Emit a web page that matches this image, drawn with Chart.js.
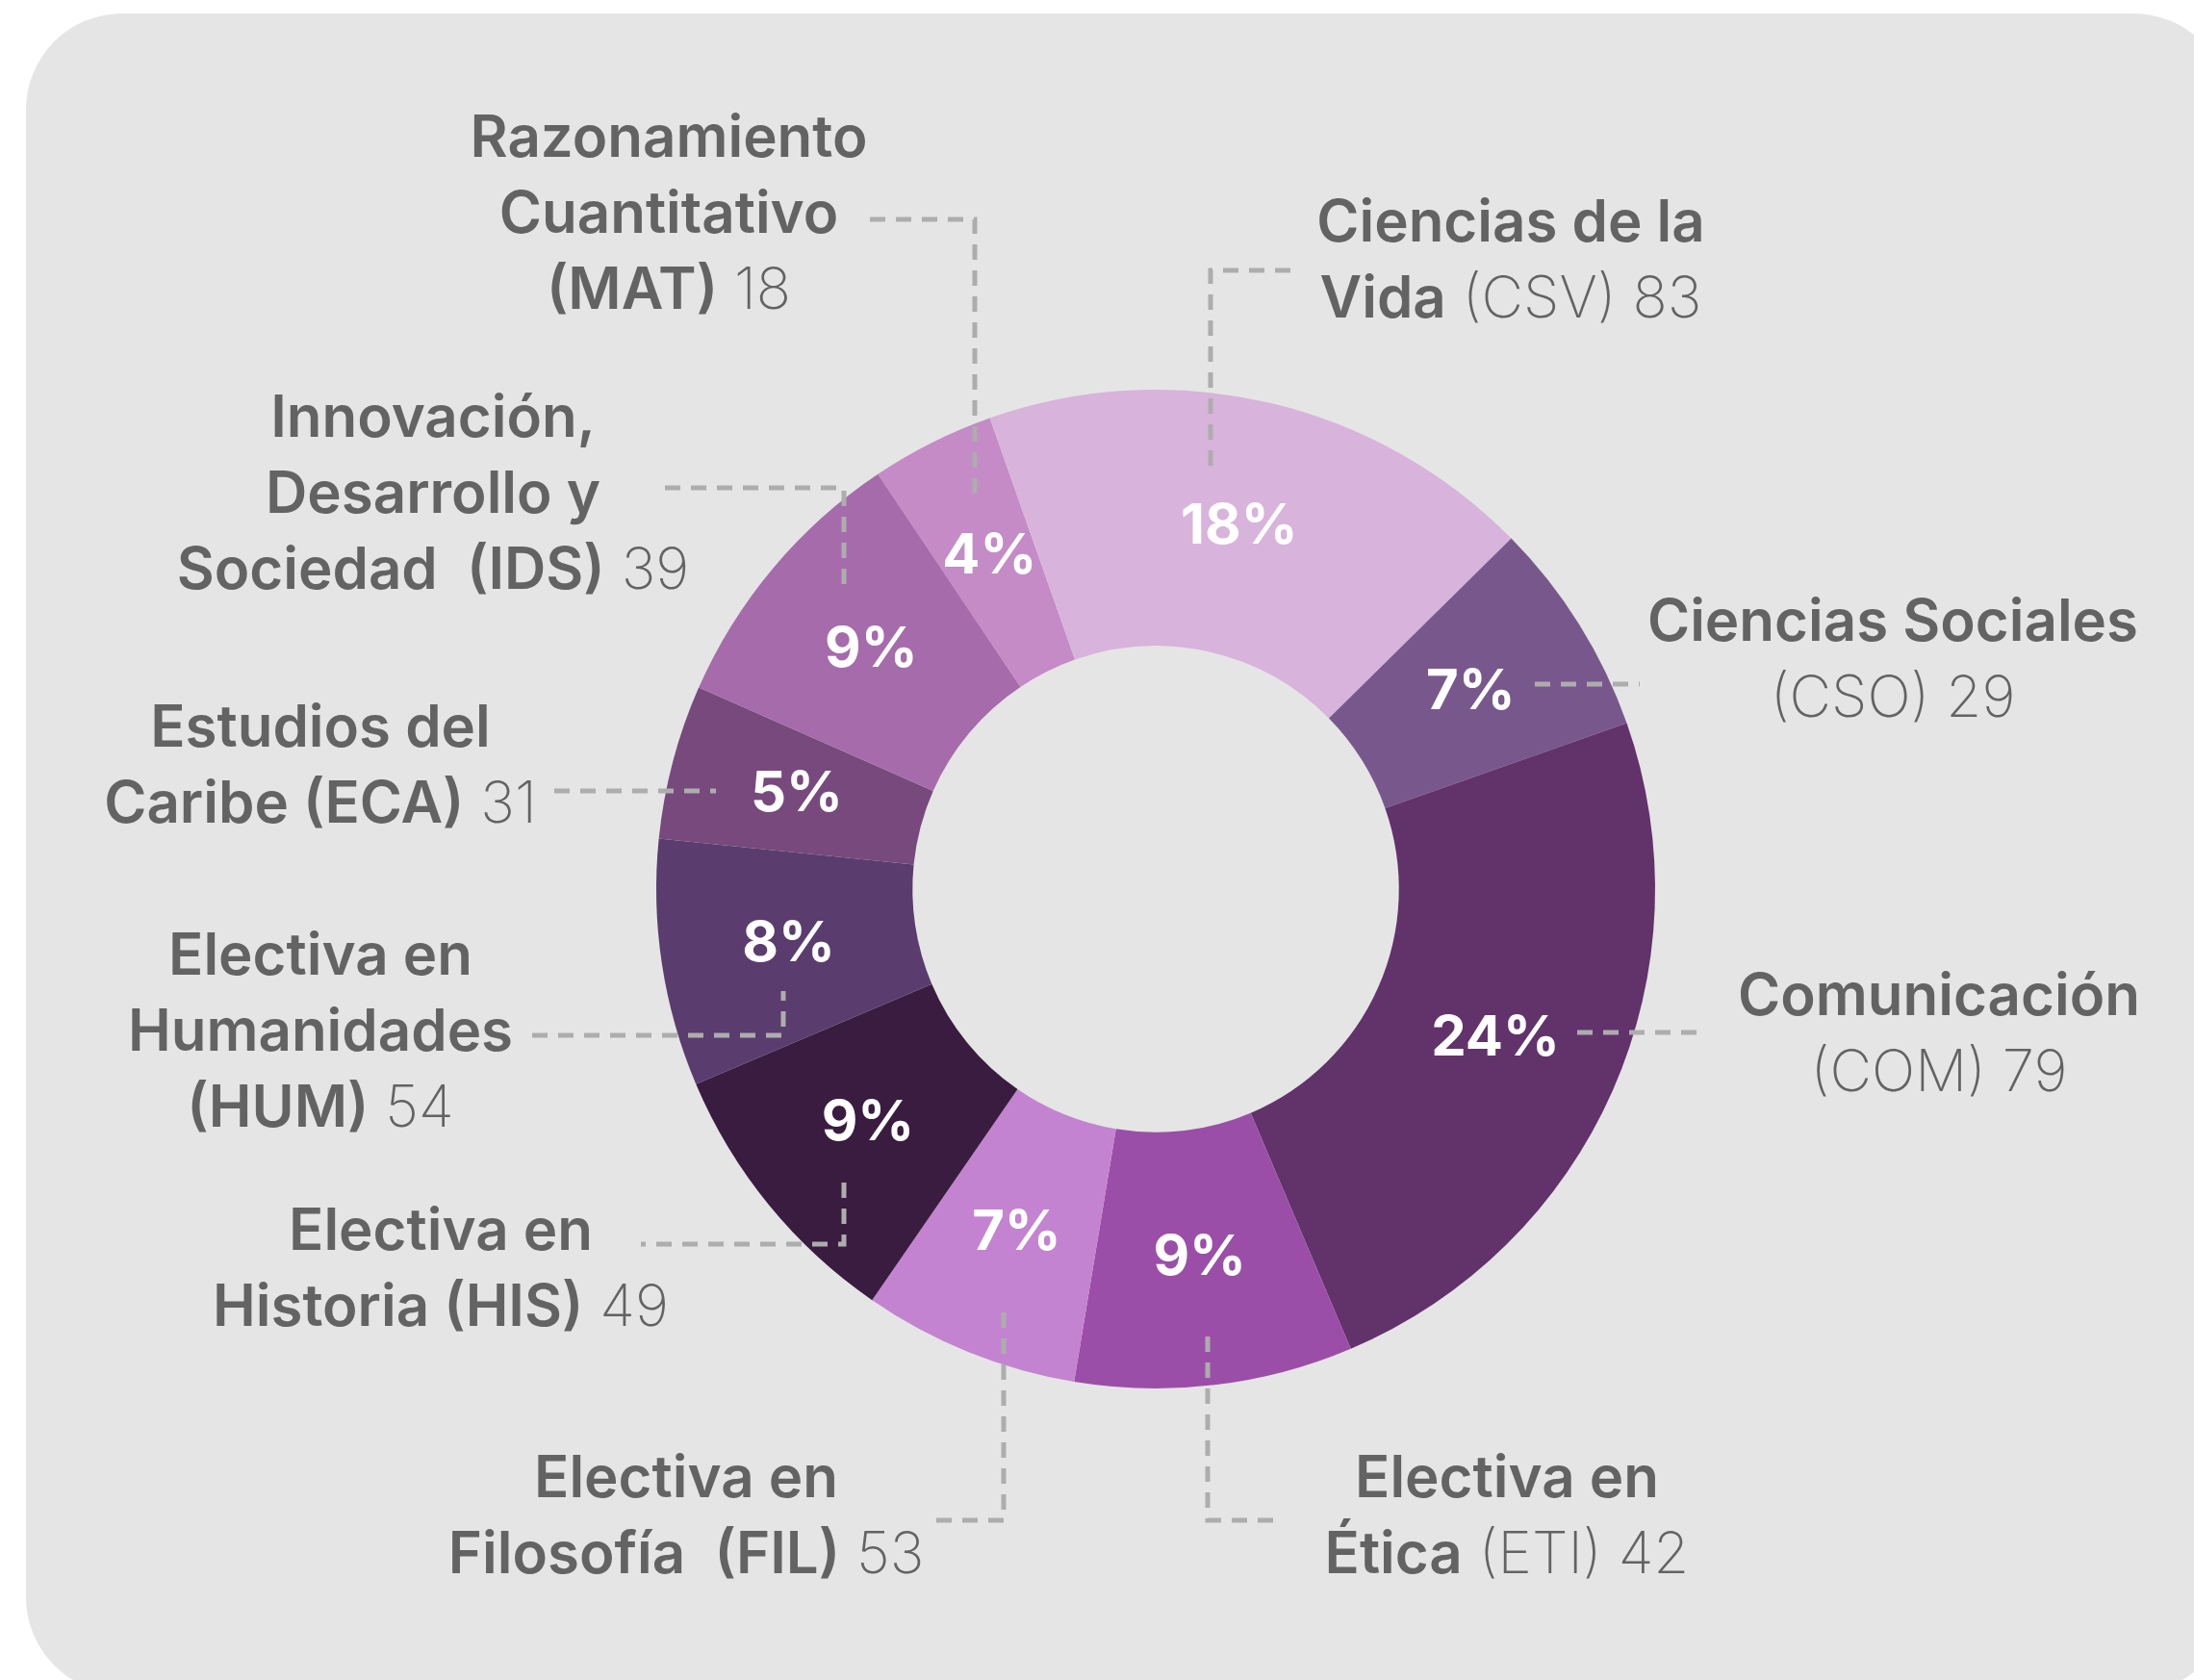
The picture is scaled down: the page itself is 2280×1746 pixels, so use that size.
<!DOCTYPE html>
<html>
<head>
<meta charset="utf-8">
<script src="https://cdn.jsdelivr.net/npm/chart.js@4"></script>
<style>
  html, body { margin: 0; padding: 0; background: #ffffff; overflow: hidden; }
  #card {
    position: absolute; left: 27px; top: 14px; width: 2290px; height: 1746px;
    border-radius: 100px; background: #e5e5e5;
  }
  #chart { position: absolute; left: 0; top: 0; }
</style>
</head>
<body>
<div id="card"></div>
<canvas id="chart" width="2280" height="1746"></canvas>
<script>
// data
const codes = ["MAT", "CSV", "CSO", "COM", "ETI", "FIL", "HIS", "HUM", "ECA", "IDS"];
const counts = [18, 83, 29, 79, 42, 53, 49, 54, 31, 39];
const percents = [4, 18, 7, 24, 9, 7, 9, 8, 5, 9];
const nameLines = [
  ["Razonamiento", "Cuantitativo"],
  ["Ciencias de la", "Vida"],
  ["Ciencias Sociales"],
  ["Comunicación"],
  ["Electiva en", "Ética"],
  ["Electiva en", "Filosofía "],
  ["Electiva en", "Historia"],
  ["Electiva en", "Humanidades"],
  ["Estudios del", "Caribe"],
  ["Innovación,", "Desarrollo y", "Sociedad "]
];
const colors = ["#c48bc6", "#d8b3db", "#78588c", "#62326b", "#9b4ea7",
                "#c483d0", "#3a1c40", "#5b3c6e", "#77497d", "#a66bab"];

// label layout (centre x, centre y of first line) and leader lines
const codeBold = [true, false, false, false, false, true, true, true, true, true];
const codeNewLine = [true, false, true, true, false, false, false, true, false, false];
const labelPos = [
  [695, 145], [1570, 233], [1967, 648], [2015, 1037], [1566, 1538],
  [713, 1538], [458, 1281], [333, 995], [333, 758], [450, 436]
];
const leaders = [
  [[904, 228], [1013, 228], [1013, 523]],
  [[1341, 281], [1258, 281], [1258, 494]],
  [[1595, 711], [1704, 711]],
  [[1639, 1073], [1771, 1073]],
  [[1255, 1389], [1255, 1580], [1328, 1580]],
  [[1043, 1364], [1043, 1580], [970, 1580]],
  [[877, 1229], [877, 1293], [666, 1293]],
  [[553, 1076], [814, 1076], [814, 1030]],
  [[576, 822], [744, 822]],
  [[691, 507], [877, 507], [877, 611]]
];

const FONT = "Inter";
const TEXT = "#636363";
const LINE_H = 79;
const boldFont = "600 60px " + FONT;
const lightFont = "200 60px " + FONT;

function buildLines(i) {
  const lines = nameLines[i].map((t) => [[t, true]]);
  const code = "(" + codes[i] + ")";
  if (codeNewLine[i]) {
    lines.push(codeBold[i] ? [[code, true], [" " + counts[i], false]]
                           : [[code + " " + counts[i], false]]);
  } else {
    const last = lines[lines.length - 1];
    if (codeBold[i]) {
      last.push([" " + code, true]);
      last.push([" " + counts[i], false]);
    } else {
      last.push([" " + code + " " + counts[i], false]);
    }
  }
  return lines;
}

const labelsPlugin = {
  id: "labels",
  afterDatasetsDraw(chart) {
    const ctx = chart.ctx;
    ctx.save();
    // leader lines
    ctx.strokeStyle = "#adadad";
    ctx.lineWidth = 5;
    ctx.setLineDash([16, 11]);
    leaders.forEach((pts) => {
      ctx.beginPath();
      ctx.moveTo(pts[0][0], pts[0][1]);
      for (let k = 1; k < pts.length; k++) ctx.lineTo(pts[k][0], pts[k][1]);
      ctx.stroke();
    });
    ctx.setLineDash([]);

    // percentages on the slices
    const meta = chart.getDatasetMeta(0);
    ctx.fillStyle = "#ffffff";
    ctx.font = "700 58px " + FONT;
    ctx.textAlign = "center";
    ctx.textBaseline = "middle";
    meta.data.forEach((arc, i) => {
      const p = arc.tooltipPosition();
      ctx.fillText(percents[i] + "%", p.x, p.y);
    });

    // category labels
    ctx.fillStyle = TEXT;
    ctx.textAlign = "left";
    codes.forEach((c, i) => {
      const lines = buildLines(i);
      lines.forEach((segs, li) => {
        let w = 0;
        segs.forEach(([t, b]) => { ctx.font = b ? boldFont : lightFont; w += ctx.measureText(t).width; });
        let x = labelPos[i][0] - w / 2;
        const y = labelPos[i][1] + li * LINE_H;
        segs.forEach(([t, b]) => {
          ctx.font = b ? boldFont : lightFont;
          ctx.fillText(t, x, y);
          x += ctx.measureText(t).width;
        });
      });
    });
    ctx.restore();
  }
};

new Chart(document.getElementById("chart"), {
  type: "doughnut",
  data: {
    labels: codes,
    datasets: [{
      data: percents,
      backgroundColor: colors,
      borderWidth: 0
    }]
  },
  options: {
    responsive: false,
    animation: false,
    cutout: "48.7%",
    rotation: -33.8,
    layout: { padding: { left: 682, right: 560, top: 405, bottom: 303 } },
    plugins: { legend: { display: false }, tooltip: { enabled: false } }
  },
  plugins: [labelsPlugin]
});
</script>
</body>
</html>
